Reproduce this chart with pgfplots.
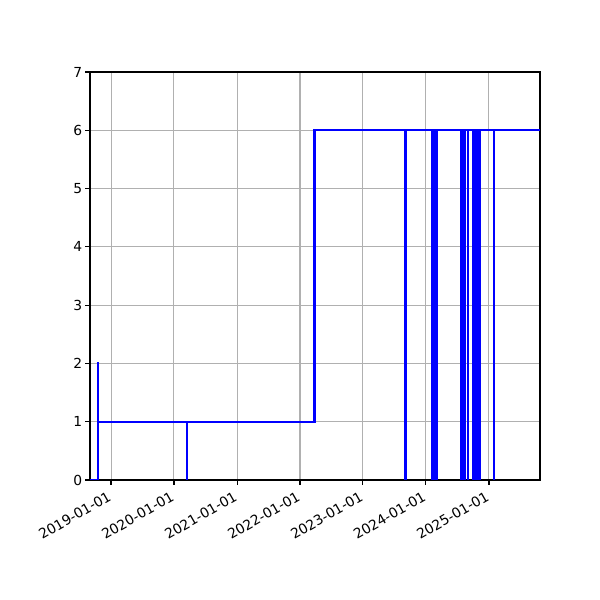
\documentclass[border=0pt]{standalone}
\usepackage{fontspec}
\setmainfont{DejaVu Sans}
\usepackage{pgfplots}
\pgfplotsset{compat=1.18}
\definecolor{gridgray}{HTML}{B0B0B0}
\begin{document}
\begin{tikzpicture}
% page frame: 600x600 px figure = 432x432 bp
\path (-64.8bp,-86.4bp) rectangle (367.2bp,345.6bp);
\begin{axis}[
    at={(0,0)}, anchor=south west,
    scale only axis=true,
    width=324bp, height=293.76bp,
    xmin=-122, xmax=2488,
    ymin=0, ymax=7,
    xtick={0,365,731,1096,1461,1826,2192},
    xticklabels={2019-01-01,2020-01-01,2021-01-01,2022-01-01,2023-01-01,2024-01-01,2025-01-01},
    ytick={0,1,2,3,4,5,6,7},
    grid=major,
    grid style={gridgray, line width=0.75pt},
    axis line style={line width=0.8pt},
    tick style={black, line width=0.8pt},
    tick align=outside,
    major tick length=3.5pt,
    xtick pos=bottom, ytick pos=left,
    font=\fontsize{10}{12}\selectfont,
    /pgf/number format/assume math mode=true,
    xticklabel style={rotate=30, anchor=north east, inner sep=2pt, xshift=-2.5bp},
    yticklabel style={inner sep=2pt},
]
\addplot[blue, line width=1.5pt, line join=miter] coordinates {
(-122,0) (-78,0) (-78,2) (-76,2) (-76,1)
(440,1) (440,0) (442,0) (442,1)
(1180,1) (1180,6)
(1708,6) (1708,0) (1709,0) (1709,6)
(1864,6) (1864,0) (1865,0) (1865,6)
(1870,6) (1870,0) (1871,0) (1871,6)
(1876,6) (1876,0) (1877,0) (1877,6)
(1887,6) (1887,0) (1888,0) (1888,6)
(2028,6) (2028,0) (2029,0) (2029,6)
(2035,6) (2035,0) (2036,0) (2036,6)
(2042,6) (2042,0) (2043,0) (2043,6)
(2050,6) (2050,0) (2051,0) (2051,6)
(2072,6) (2072,0) (2073,0) (2073,6)
(2102,6) (2102,0) (2103,0) (2103,6)
(2109,6) (2109,0) (2110,0) (2110,6)
(2116,6) (2116,0) (2117,0) (2117,6)
(2123,6) (2123,0) (2124,0) (2124,6)
(2131,6) (2131,0) (2132,0) (2132,6)
(2138,6) (2138,0) (2139,0) (2139,6)
(2219,6) (2219,0) (2220,0) (2220,6)
(2488,6)
};
\end{axis}
\end{tikzpicture}
\end{document}
